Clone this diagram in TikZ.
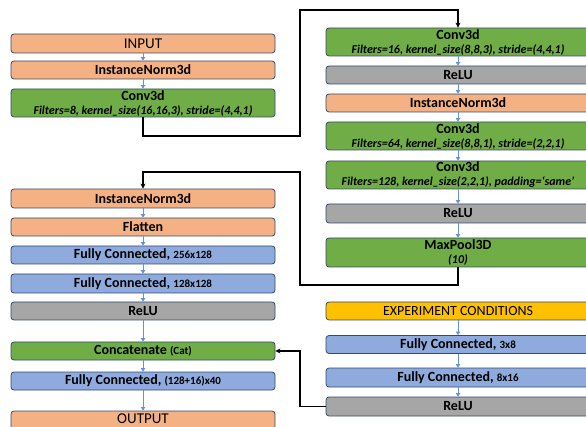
\documentclass[tikz,border=0pt]{standalone}
\usepackage{fontspec}
\setmainfont{Carlito}
\usetikzlibrary{arrows.meta}
\definecolor{cOrange}{RGB}{244,177,131}
\definecolor{cGreen}{RGB}{112,173,71}
\definecolor{cGray}{RGB}{166,166,166}
\definecolor{cBlue}{RGB}{143,170,220}
\definecolor{cYellow}{RGB}{255,192,0}
\definecolor{cBorder}{RGB}{55,75,105}
\definecolor{cFlow}{RGB}{100,145,215}
\newcommand{\subtxt}[1]{{\fontsize{12}{14}\selectfont\bfseries\itshape #1}}
\newcommand{\smtxt}[1]{{\fontsize{11}{14}\selectfont\bfseries #1}}
\begin{document}
\begin{tikzpicture}[x=1pt,y=-1pt,
  blk/.style={draw=cBorder,line width=0.8pt,rounded corners=3pt,minimum width=264pt,inner sep=0pt,align=center,font=\fontsize{14}{14}\selectfont\bfseries},
  plain/.style={font=\fontsize{15}{15}\selectfont},
  flow/.style={draw=cFlow,line width=0.7pt,-{Triangle[width=4.5pt,length=3.5pt]}},
  link/.style={draw=black,line width=1.2pt,-{Stealth[width=5pt,length=5pt]}}]
\useasboundingbox (0,0) rectangle (586,427);
\clip (0,0) rectangle (586,427);
% left column
\node[blk,fill=cOrange,minimum height=19pt,plain] (in) at (143,43.5) {INPUT};
\node[blk,fill=cOrange,minimum height=18pt] (norm1) at (143,70) {InstanceNorm3d};
\node[blk,fill=cGreen,minimum height=28pt] (conv1) at (143,103) {Conv3d\\\subtxt{Filters=8, kernel\_size(16,16,3), stride=(4,4,1)}};
\node[blk,fill=cOrange,minimum height=19pt] (norm2) at (143,198.5) {InstanceNorm3d};
\node[blk,fill=cOrange,minimum height=18pt] (flat) at (143,227) {Flatten};
\node[blk,fill=cBlue,minimum height=18pt] (fc1) at (143,255) {Fully Connected, \smtxt{256x128}};
\node[blk,fill=cBlue,minimum height=19pt] (fc2) at (143,283.5) {Fully Connected, \smtxt{128x128}};
\node[blk,fill=cGray,minimum height=18pt] (relu1) at (143,311) {ReLU};
\node[blk,fill=cGreen,minimum height=18pt] (cat) at (143,351) {Concatenate \smtxt{(Cat)}};
\node[blk,fill=cBlue,minimum height=18pt] (fc3) at (143,381) {Fully Connected, \smtxt{(128+16)x40}};
\node[blk,fill=cOrange,minimum height=24pt,plain,text height=10.5pt,text depth=9pt] (out) at (143,423) {OUTPUT};
% right column
\node[blk,fill=cGreen,minimum height=28pt] (rconv1) at (458,42) {Conv3d\\\subtxt{Filters=16, kernel\_size(8,8,3), stride=(4,4,1)}};
\node[blk,fill=cGray,minimum height=18pt] (relu2) at (458,75) {ReLU};
\node[blk,fill=cOrange,minimum height=18pt] (norm3) at (458,103) {InstanceNorm3d};
\node[blk,fill=cGreen,minimum height=28pt] (rconv2) at (458,136) {Conv3d\\\subtxt{Filters=64, kernel\_size(8,8,1), stride=(2,2,1)}};
\node[blk,fill=cGreen,minimum height=28pt] (rconv3) at (458,175) {Conv3d\\\subtxt{Filters=128, kernel\_size(2,2,1), padding=‘same’}};
\node[blk,fill=cGray,minimum height=19pt] (relu3) at (458,213.5) {ReLU};
\node[blk,fill=cGreen,minimum height=29pt] (pool) at (458,252.5) {MaxPool3D\\\subtxt{(10)}};
\node[blk,fill=cYellow,minimum height=18pt,plain,font=\fontsize{14}{14}\selectfont] (exp) at (458,311) {EXPERIMENT CONDITIONS};
\node[blk,fill=cBlue,minimum height=18pt] (fc4) at (458,344.5) {Fully Connected, \smtxt{3x8}};
\node[blk,fill=cBlue,minimum height=19pt] (fc5) at (458,377.5) {Fully Connected, \smtxt{8x16}};
\node[blk,fill=cGray,minimum height=19pt] (relu4) at (458,406.5) {ReLU};
% flow arrows
\draw[flow] (in) -- (norm1);
\draw[flow] (norm1) -- (conv1);
\draw[flow] (norm2) -- (flat);
\draw[flow] (flat) -- (fc1);
\draw[flow] (fc1) -- (fc2);
\draw[flow] (fc2) -- (relu1);
\draw[flow] (relu1) -- (cat);
\draw[flow] (cat) -- (fc3);
\draw[flow] (fc3) -- (out);
\draw[flow] (rconv1) -- (relu2);
\draw[flow] (relu2) -- (norm3);
\draw[flow] (norm3) -- (rconv2);
\draw[flow] (rconv2) -- (rconv3);
\draw[flow] (rconv3) -- (relu3);
\draw[flow] (relu3) -- (pool);
\draw[flow] (exp) -- (fc4);
\draw[flow] (fc4) -- (fc5);
\draw[flow] (fc5) -- (relu4);
% black connectors
\coordinate (c1) at (300,136);
\coordinate (c2) at (300,10);
\coordinate (c3) at (300,285);
\coordinate (c4) at (300,172);
\coordinate (c6) at (300,351);
\draw[link] (conv1.south) |- (c1) -- (c2) -| (rconv1.north);
\draw[link] (pool.south) |- (c3) -- (c4) -| (norm2.north);
\draw[link] (relu4.west) -| (c6) -- (cat.east);
\end{tikzpicture}
\end{document}
